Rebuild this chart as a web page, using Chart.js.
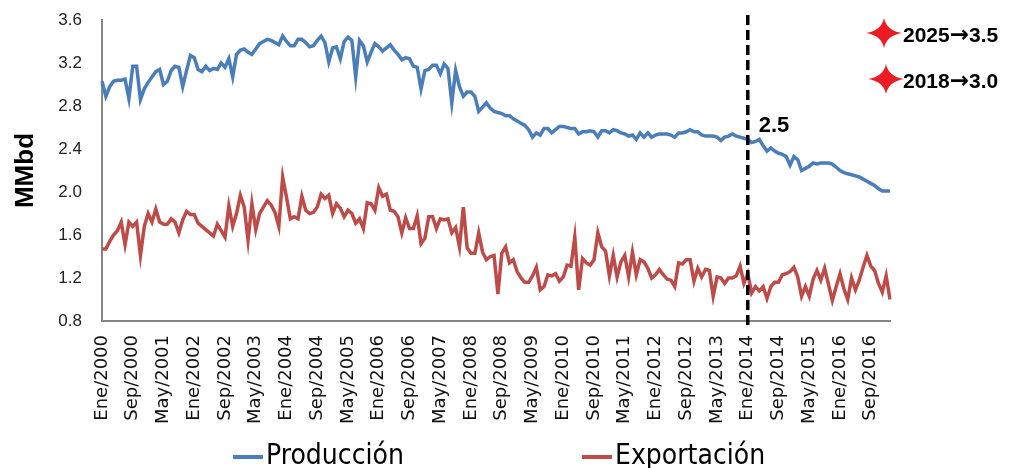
<!DOCTYPE html>
<html>
<head>
<meta charset="utf-8">
<script src="https://cdn.jsdelivr.net/npm/chart.js@4.4.1/dist/chart.umd.min.js"></script>
<style>
  html, body { margin: 0; padding: 0; background: #fff; }
</style>
</head>
<body>
<canvas id="chart" width="1013" height="468"></canvas>
<script>
// Meses y años del eje de categorías (Ene/2000 ... Feb/2017)
const meses = ['Ene', 'Feb', 'Mar', 'Abr', 'May', 'Jun', 'Jul', 'Ago', 'Sep', 'Oct', 'Nov', 'Dic'];
const anios = [2000, 2001, 2002, 2003, 2004, 2005, 2006, 2007, 2008,
               2009, 2010, 2011, 2012, 2013, 2014, 2015, 2016, 2017];

// MMbd, un valor por mes
const produccion = [
  3.03, 2.89, 2.98, 3.03, 3.04, 3.04, 3.05, 2.87, 3.17, 3.17,
  2.86, 2.96, 3.02, 3.07, 3.12, 3.14, 3.00, 3.03, 3.13, 3.17,
  3.16, 2.98, 3.13, 3.27, 3.25, 3.14, 3.12, 3.17, 3.13, 3.15,
  3.14, 3.20, 3.16, 3.24, 3.07, 3.28, 3.32, 3.33, 3.30, 3.28,
  3.33, 3.38, 3.40, 3.42, 3.41, 3.39, 3.37, 3.45, 3.40, 3.36,
  3.36, 3.42, 3.42, 3.39, 3.35, 3.36, 3.41, 3.45, 3.39, 3.21,
  3.34, 3.35, 3.24, 3.40, 3.44, 3.41, 3.07, 3.41, 3.36, 3.21,
  3.30, 3.38, 3.35, 3.31, 3.34, 3.37, 3.32, 3.28, 3.23, 3.25,
  3.24, 3.17, 3.16, 2.96, 3.13, 3.14, 3.18, 3.18, 3.10, 3.19,
  3.15, 2.83, 3.13, 2.98, 2.89, 2.93, 2.93, 2.89, 2.75, 2.79,
  2.83, 2.78, 2.75, 2.74, 2.73, 2.71, 2.71, 2.68, 2.66, 2.64,
  2.62, 2.58, 2.51, 2.55, 2.53, 2.59, 2.59, 2.55, 2.58, 2.61,
  2.61, 2.60, 2.59, 2.59, 2.54, 2.56, 2.56, 2.57, 2.56, 2.51,
  2.57, 2.57, 2.55, 2.58, 2.57, 2.55, 2.54, 2.52, 2.53, 2.49,
  2.55, 2.51, 2.55, 2.51, 2.53, 2.54, 2.54, 2.54, 2.53, 2.51,
  2.55, 2.55, 2.56, 2.58, 2.56, 2.56, 2.53, 2.52, 2.52, 2.52,
  2.51, 2.48, 2.51, 2.52, 2.54, 2.52, 2.51, 2.50, 2.49, 2.46,
  2.47, 2.49, 2.43, 2.38, 2.41, 2.38, 2.36, 2.35, 2.33, 2.25,
  2.33, 2.30, 2.20, 2.22, 2.24, 2.27, 2.26, 2.27, 2.27, 2.27,
  2.26, 2.23, 2.20, 2.18, 2.17, 2.16, 2.15, 2.14, 2.12, 2.10,
  2.08, 2.06, 2.03, 2.01, 2.01, 2.01
];

const exportacion = [
  1.47, 1.47, 1.54, 1.60, 1.64, 1.72, 1.51, 1.72, 1.68, 1.72,
  1.41, 1.68, 1.80, 1.72, 1.84, 1.72, 1.70, 1.70, 1.75, 1.72,
  1.62, 1.74, 1.82, 1.79, 1.79, 1.71, 1.68, 1.65, 1.62, 1.59,
  1.70, 1.64, 1.58, 1.87, 1.68, 1.80, 1.97, 1.86, 1.55, 1.89,
  1.65, 1.80, 1.86, 1.92, 1.88, 1.81, 1.68, 2.14, 1.95, 1.75,
  1.77, 1.75, 1.96, 1.83, 1.80, 1.81, 1.86, 1.98, 1.94, 1.97,
  1.80, 1.89, 1.85, 1.77, 1.83, 1.80, 1.71, 1.75, 1.66, 1.90,
  1.89, 1.83, 2.04, 1.96, 1.98, 1.83, 1.82, 1.77, 1.62, 1.76,
  1.66, 1.66, 1.78, 1.52, 1.57, 1.77, 1.77, 1.66, 1.75, 1.74,
  1.75, 1.62, 1.67, 1.49, 1.86, 1.48, 1.43, 1.43, 1.62, 1.44,
  1.37, 1.40, 1.41, 1.05, 1.43, 1.49, 1.34, 1.37, 1.26, 1.20,
  1.16, 1.16, 1.22, 1.30, 1.09, 1.12, 1.23, 1.22, 1.24, 1.17,
  1.21, 1.32, 1.31, 1.58, 1.09, 1.38, 1.34, 1.32, 1.37, 1.62,
  1.49, 1.45, 1.22, 1.41, 1.21, 1.35, 1.41, 1.21, 1.44, 1.23,
  1.37, 1.35, 1.29, 1.20, 1.23, 1.28, 1.23, 1.19, 1.18, 1.12,
  1.34, 1.33, 1.37, 1.37, 1.17, 1.29, 1.21, 1.28, 1.27, 1.03,
  1.21, 1.20, 1.15, 1.20, 1.20, 1.22, 1.31, 1.15, 1.24, 1.06,
  1.12, 1.08, 1.12, 1.01, 1.12, 1.16, 1.16, 1.23, 1.24, 1.26,
  1.30, 1.21, 1.03, 1.12, 1.03, 1.19, 1.27, 1.18, 1.29, 1.14,
  0.99, 1.12, 1.24, 1.10, 1.00, 1.20, 1.09, 1.18, 1.30, 1.41,
  1.31, 1.27, 1.15, 1.07, 1.22, 1.00
];

// Marca vertical en Ene/2014 y metas
const corte = 'Ene/2014';
const valorCorte = 2.5;
const metas = ['2025\u21923.5', '2018\u21923.0'];

const etiquetas = [];
anios.forEach(a => {
  meses.forEach(m => {
    if (etiquetas.length < produccion.length) etiquetas.push(m + '/' + a);
  });
});

const AZUL = '#4A7EBB';
const ROJO = '#BE4B48';
const FUENTE = '"Liberation Sans", Arial, sans-serif';

function estrella(ctx, cx, cy, rx, ry) {
  const w = 2.5;
  ctx.beginPath();
  ctx.moveTo(cx - rx, cy);
  ctx.quadraticCurveTo(cx - w, cy - w, cx, cy - ry);
  ctx.quadraticCurveTo(cx + w, cy - w, cx + rx, cy);
  ctx.quadraticCurveTo(cx + w, cy + w, cx, cy + ry);
  ctx.quadraticCurveTo(cx - w, cy + w, cx - rx, cy);
  ctx.closePath();
  ctx.fill();
}

const anotaciones = {
  id: 'anotaciones',
  afterDatasetsDraw(chart) {
    const { ctx, chartArea, scales } = chart;
    const x = scales.x, y = scales.y;
    const xc = x.getPixelForValue(etiquetas.indexOf(corte));

    ctx.save();
    // línea discontinua
    ctx.strokeStyle = '#000';
    ctx.lineWidth = 3.5;
    ctx.setLineDash([10, 5]);
    ctx.beginPath();
    ctx.moveTo(xc, chartArea.top - 5);
    ctx.lineTo(xc, chartArea.bottom + 9);
    ctx.stroke();
    ctx.setLineDash([]);

    ctx.fillStyle = '#000';
    ctx.font = 'bold 22px ' + FUENTE;
    ctx.textAlign = 'left';
    ctx.textBaseline = 'alphabetic';
    ctx.fillText(valorCorte.toFixed(1), xc + 11, y.getPixelForValue(valorCorte) - 6);

    // metas con estrella
    metas.forEach((t, i) => {
      const cy = 33 + i * 46;
      ctx.fillStyle = '#ED1C24';
      estrella(ctx, chartArea.right - 6 + i * 2, cy, 18, 15);
      ctx.fillStyle = '#000';
      const partes = t.split('\u2192');
      let tx = chartArea.right + 13;
      const by = cy + 9;
      ctx.font = 'bold 21px ' + FUENTE;
      ctx.fillText(partes[0], tx, by);
      tx += ctx.measureText(partes[0]).width;
      ctx.font = 'bold 23px "DejaVu Sans", sans-serif';
      ctx.fillText('\u2192', tx, by);
      tx += ctx.measureText('\u2192').width;
      ctx.font = 'bold 21px ' + FUENTE;
      ctx.fillText(partes[1], tx, by);
    });

    // leyenda
    const posLeyenda = [233, 582];
    const yl = 457;
    chart.data.datasets.forEach((ds, i) => {
      const lx = posLeyenda[i];
      ctx.strokeStyle = ds.borderColor;
      ctx.lineWidth = 4;
      ctx.beginPath();
      ctx.moveTo(lx, yl);
      ctx.lineTo(lx + 30, yl);
      ctx.stroke();
      ctx.fillStyle = '#000';
      ctx.font = '28px "Liberation Sans Narrow", "DejaVu Sans Condensed", "Liberation Sans", sans-serif';
      ctx.textBaseline = 'middle';
      ctx.fillText(ds.label, lx + 33, yl);
    });
    ctx.restore();
  }
};

new Chart(document.getElementById('chart'), {
  type: 'line',
  data: {
    labels: etiquetas,
    datasets: [
      {
        label: 'Producción',
        data: produccion,
        borderColor: AZUL,
        backgroundColor: AZUL,
        borderWidth: 3.5,
        pointRadius: 0,
        tension: 0
      },
      {
        label: 'Exportación',
        data: exportacion,
        borderColor: ROJO,
        backgroundColor: ROJO,
        borderWidth: 3.5,
        pointRadius: 0,
        tension: 0
      }
    ]
  },
  options: {
    responsive: false,
    animation: false,
    layout: {
      padding: { left: 0, right: 123, top: 20, bottom: 0 }
    },
    plugins: {
      legend: { display: false },
      tooltip: { enabled: false }
    },
    scales: {
      x: {
        grid: { display: false, drawTicks: false },
        border: { display: true, color: '#868686', width: 2 },
        afterFit: (scale) => {
          scale.height = 147;
          scale.paddingLeft = 0;
          scale.paddingRight = 0;
        },
        ticks: {
          autoSkip: false,
          minRotation: 90,
          maxRotation: 90,
          padding: 14,
          color: '#111',
          font: { family: '"DejaVu Sans", sans-serif', size: 18 },
          callback: function (value, index) {
            return index % 8 === 0 ? this.getLabelForValue(value) : null;
          }
        }
      },
      y: {
        min: 0.8,
        max: 3.6,
        grid: { display: false, drawTicks: false },
        border: { display: true, color: '#868686', width: 2 },
        afterFit: (scale) => {
          scale.width = 102;
          scale.paddingTop = 0;
          scale.paddingBottom = 0;
        },
        title: {
          display: true,
          text: 'MMbd',
          color: '#000',
          padding: { top: 10, bottom: 0 },
          font: { family: FUENTE, size: 26, weight: 'bold', lineHeight: 1.2 }
        },
        ticks: {
          stepSize: 0.4,
          padding: 20,
          color: '#222',
          font: { family: FUENTE, size: 17 },
          callback: (v) => v.toFixed(1)
        }
      }
    }
  },
  plugins: [anotaciones]
});
</script>
</body>
</html>
